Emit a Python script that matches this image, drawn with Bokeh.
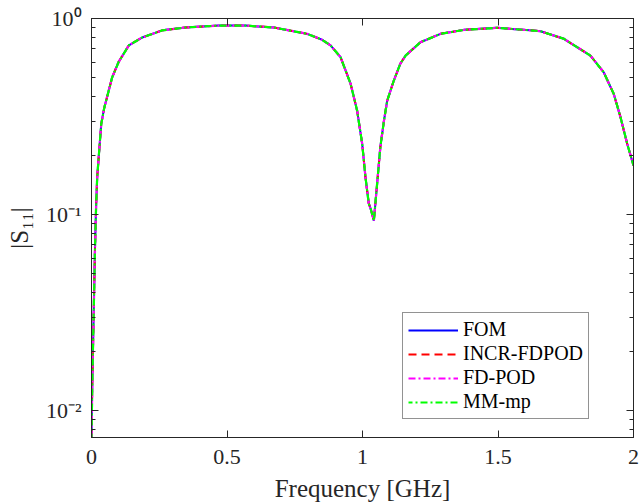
from bokeh.plotting import figure
from bokeh.models import (Range1d, FixedTicker, CustomJSTickFormatter, LinearAxis,
                          LogAxis, Legend, LegendItem)
from bokeh.embed import file_html
from bokeh.resources import INLINE

# ---- data ----
freq_ghz = [0.000, 0.003, 0.008, 0.013, 0.017, 0.021, 0.027, 0.036, 0.047, 0.058,
            0.076, 0.100, 0.138, 0.187, 0.261, 0.347, 0.469, 0.568, 0.673, 0.796,
            0.850, 0.882, 0.919, 0.956, 0.980, 0.999, 1.011, 1.023, 1.032, 1.042,
            1.054, 1.066, 1.079, 1.091, 1.115, 1.140, 1.159, 1.214, 1.288, 1.374,
            1.497, 1.620, 1.657, 1.743, 1.841, 1.890, 1.927, 1.952, 1.977, 2.000]
s11_fom = [0.0073, 0.0140, 0.031, 0.068, 0.110, 0.155, 0.200, 0.290, 0.350, 0.400,
           0.500, 0.600, 0.730, 0.800, 0.870, 0.900, 0.920, 0.920, 0.900, 0.835,
           0.780, 0.730, 0.635, 0.465, 0.340, 0.229, 0.155, 0.114, 0.105, 0.093,
           0.144, 0.222, 0.300, 0.380, 0.480, 0.590, 0.647, 0.757, 0.835, 0.875,
           0.896, 0.870, 0.861, 0.788, 0.647, 0.532, 0.413, 0.314, 0.229, 0.178]
s11_incr_fdpod = list(s11_fom)
s11_fd_pod = list(s11_fom)
s11_mm_mp = list(s11_fom)

series_names = ["FOM", "INCR-FDPOD", "FD-POD", "MM-mp"]
x_ticks = [0, 0.5, 1, 1.5, 2]
y_ticks = [0.01, 0.1, 1]
y_minor = [0.008, 0.009,
           0.02, 0.03, 0.04, 0.05, 0.06, 0.07, 0.08, 0.09,
           0.2, 0.3, 0.4, 0.5, 0.6, 0.7, 0.8, 0.9]

AX = "#262626"
FONT = "serif"

p = figure(width=639, height=504, output_backend="svg", toolbar_location=None,
           x_range=Range1d(0, 2), y_range=Range1d(0.0073, 1.0), y_axis_type="log",
           min_border_left=91, min_border_right=6, min_border_top=18, min_border_bottom=67,
           background_fill_color="white", border_fill_color="white")
p.grid.visible = False
p.outline_line_color = AX
p.outline_line_width = 1

xfmt = CustomJSTickFormatter(code="return String(tick);")
yfmt = CustomJSTickFormatter(code="""
const e = Math.round(Math.log10(tick));
const sup = {"0":"\\u2070","1":"\\u00b9","2":"\\u00b2","-":"\\u207b"};
return "10" + String(e).split("").map(c => sup[c]).join("");
""")
blank = CustomJSTickFormatter(code="return '';")

def style_ticks(ax):
    ax.axis_line_color = AX
    ax.major_tick_line_color = AX
    ax.minor_tick_line_color = AX
    ax.major_tick_in = 7
    ax.major_tick_out = 0
    ax.minor_tick_in = 4
    ax.minor_tick_out = 0

xa = p.xaxis[0]
xa.ticker = FixedTicker(ticks=x_ticks)
xa.formatter = xfmt
style_ticks(xa)
xa.major_label_text_font = FONT
xa.major_label_text_color = AX
xa.major_label_text_font_size = "22px"
xa.major_label_standoff = 12
xa.axis_label = "Frequency [GHz]"
xa.axis_label_text_font = FONT
xa.axis_label_text_font_size = "25px"
xa.axis_label_text_font_style = "normal"
xa.axis_label_text_color = AX
xa.axis_label_standoff = 8

ya = p.yaxis[0]
ya.ticker = FixedTicker(ticks=y_ticks, minor_ticks=y_minor)
ya.formatter = yfmt
style_ticks(ya)
ya.major_label_text_font = FONT
ya.major_label_text_color = AX
ya.major_label_text_font_size = "22px"
ya.major_label_standoff = 10
ya.axis_label = "|S\u2081\u2081|"
ya.axis_label_text_font = FONT
ya.axis_label_text_font_size = "25px"
ya.axis_label_text_font_style = "normal"
ya.axis_label_text_color = AX
ya.axis_label_standoff = 10

top = LinearAxis(ticker=FixedTicker(ticks=x_ticks), formatter=blank, major_label_standoff=0)
style_ticks(top)
p.add_layout(top, "above")
right = LogAxis(ticker=FixedTicker(ticks=y_ticks, minor_ticks=y_minor), formatter=blank,
                major_label_standoff=0)
style_ticks(right)
p.add_layout(right, "right")

r1 = p.line(freq_ghz, s11_fom, line_color="#0000ff", line_width=2)
r2 = p.line(freq_ghz, s11_incr_fdpod, line_color="#ff0000", line_width=2, line_dash="8 5")
r3 = p.line(freq_ghz, s11_fd_pod, line_color="#ff00ff", line_width=2.2, line_dash="7 3 2 3")
r4 = p.line(freq_ghz, s11_mm_mp, line_color="#00ff00", line_width=2.2, line_dash="7 3 2 3",
            line_dash_offset=3)

legend = Legend(items=[LegendItem(label=n, renderers=[r]) for n, r in
                       zip(series_names, [r1, r2, r3, r4])],
                location=(311, 18), margin=0, padding=5, spacing=1,
                glyph_width=50, glyph_height=22, label_standoff=5,
                label_text_font=FONT, label_text_font_size="20px", label_text_color="black",
                border_line_color=AX, border_line_width=1, background_fill_alpha=1)
p.add_layout(legend, "center")

open("out.html", "w").write(file_html(p, INLINE))
